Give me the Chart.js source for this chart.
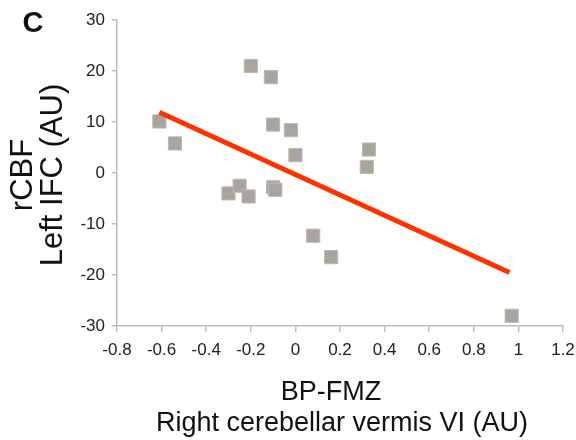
<!DOCTYPE html>
<html>
<head>
<meta charset="utf-8">
<script src="https://cdn.jsdelivr.net/npm/chart.js@4.4.1/dist/chart.umd.min.js"></script>
<style>
  body { margin: 0; background: #fff; }
  canvas { display: block; }
</style>
</head>
<body>
<canvas id="chart" width="576" height="440"></canvas>
<script>
// values (panel C)
const bpFmz = [-0.61, -0.54, -0.20, -0.11, -0.10, -0.02, 0.00, 0.33, 0.32, -0.30, -0.25, -0.21, -0.10, -0.09, 0.08, 0.16, 0.97];
const rcbf = [10.1, 5.8, 21.0, 18.8, 9.5, 8.4, 3.5, 4.6, 1.2, -4.0, -2.5, -4.6, -2.8, -3.3, -12.3, -16.5, -28.0];

// regression line end points
const fitX = [-0.61, 0.96];
const fitY = [11.9, -19.5];

const xTitle = ["BP-FMZ", "Right cerebellar vermis VI (AU)"];
const yTitle = ["rCBF", "Left IFC (AU)"];
const panelLabel = "C";

const FONT = "'Liberation Sans', Arial, sans-serif";

const scatterPts = bpFmz.map((x, i) => ({ x: x, y: rcbf[i] }));
const fitPts = fitX.map((x, i) => ({ x: x, y: fitY[i] }));

// titles + panel letter drawn onto the canvas
const titlesPlugin = {
    id: "titles",
    afterDraw(chart) {
        const ctx = chart.ctx;
        ctx.save();
        ctx.fillStyle = "#111";
        ctx.textBaseline = "alphabetic";
        ctx.textAlign = "center";

        ctx.font = "bold 29px " + FONT;
        ctx.fillText(panelLabel, 33, 32);

        ctx.font = "27px " + FONT;
        ctx.fillText(xTitle[0], 331, 400);
        ctx.fillText(xTitle[1], 342, 431);

        ctx.translate(0, 175);
        ctx.rotate(-Math.PI / 2);
        ctx.font = "31px " + FONT;
        ctx.fillText(yTitle[0], 0, 32);
        ctx.fillText(yTitle[1], 0, 62);
        ctx.restore();
    }
};

const axisColor = "#bdbdbd";

new Chart(document.getElementById("chart"), {
    type: "scatter",
    data: {
        datasets: [
            {
                label: "fit",
                data: fitPts,
                showLine: true,
                borderColor: "#ff3300",
                borderWidth: 5,
                pointRadius: 0,
                order: 0
            },
            {
                label: "subjects",
                data: scatterPts,
                pointStyle: "rect",
                pointRadius: 9.3,
                backgroundColor: "#aaa49e",
                borderColor: "#bdb8b2",
                borderWidth: 1,
                order: 1
            }
        ]
    },
    options: {
        responsive: false,
        animation: false,
        layout: { padding: { left: 0, top: 20, right: 0, bottom: 0 } },
        plugins: {
            legend: { display: false },
            tooltip: { enabled: false }
        },
        scales: {
            x: {
                type: "linear",
                min: -0.8,
                max: 1.2,
                afterFit: s => { s.height = 114; s.paddingRight = 13; },
                border: { display: true, color: axisColor, width: 1.5 },
                grid: { drawOnChartArea: false, drawTicks: true, tickLength: 6, color: axisColor, lineWidth: 1.5 },
                ticks: {
                    stepSize: 0.2,
                    maxRotation: 0,
                    autoSkip: false,
                    padding: 8,
                    color: "#222",
                    font: { family: FONT, size: 17 },
                    callback: v => String(+v.toFixed(1))
                }
            },
            y: {
                min: -30,
                max: 30,
                afterFit: s => { s.width = 117; },
                border: { display: true, color: axisColor, width: 1.5 },
                grid: { drawOnChartArea: false, drawTicks: true, tickLength: 5, color: axisColor, lineWidth: 1.5 },
                ticks: {
                    stepSize: 10,
                    padding: 7,
                    color: "#222",
                    font: { family: FONT, size: 17 }
                }
            }
        }
    },
    plugins: [titlesPlugin]
});
</script>
</body>
</html>
